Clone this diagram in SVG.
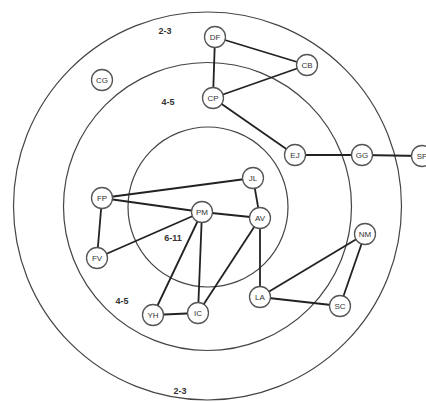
<svg xmlns="http://www.w3.org/2000/svg" width="426" height="402" viewBox="0 0 426 402">
<style>
.ring{fill:none;stroke:#444;stroke-width:1.2}
.node circle{fill:#fff;stroke:#555;stroke-width:1.3}
.node text{font-family:"Liberation Sans",Arial,sans-serif;font-size:8px;fill:#333;text-anchor:middle;dominant-baseline:central}
.lbl{font-family:"Liberation Sans",Arial,sans-serif;font-size:9px;font-weight:bold;fill:#333;text-anchor:middle}
#edges line{stroke:#222;stroke-width:1.8}
</style>
<rect width="426" height="402" fill="#fff"/>
<g id="rings">
<circle class="ring" cx="207.5" cy="206" r="194"/>
<circle class="ring" cx="207.5" cy="206.5" r="144"/>
<circle class="ring" cx="208" cy="207" r="80"/>
</g>
<g id="labels">
<text class="lbl" x="165" y="34">2-3</text>
<text class="lbl" x="168" y="105">4-5</text>
<text class="lbl" x="173" y="241">6-11</text>
<text class="lbl" x="122" y="304">4-5</text>
<text class="lbl" x="180" y="394">2-3</text>
</g>
<g id="edges">
<line x1="215" y1="37" x2="213" y2="98"/>
<line x1="215" y1="37" x2="307" y2="65"/>
<line x1="307" y1="65" x2="213" y2="98"/>
<line x1="213" y1="98" x2="295" y2="155"/>
<line x1="295" y1="155" x2="362" y2="155"/>
<line x1="362" y1="155" x2="422" y2="156"/>
<line x1="102" y1="198" x2="253" y2="178"/>
<line x1="102" y1="198" x2="202" y2="212"/>
<line x1="102" y1="198" x2="97" y2="258"/>
<line x1="97" y1="258" x2="202" y2="212"/>
<line x1="202" y1="212" x2="260" y2="218"/>
<line x1="253" y1="178" x2="260" y2="218"/>
<line x1="202" y1="212" x2="153" y2="315"/>
<line x1="202" y1="212" x2="198" y2="313"/>
<line x1="260" y1="218" x2="198" y2="313"/>
<line x1="260" y1="218" x2="260" y2="297"/>
<line x1="153" y1="315" x2="198" y2="313"/>
<line x1="260" y1="297" x2="365" y2="234"/>
<line x1="260" y1="297" x2="340" y2="306"/>
<line x1="365" y1="234" x2="340" y2="306"/>
</g>
<g id="n-DF" class="node"><circle cx="215" cy="37" r="10.5"/><text x="215" y="37">DF</text></g>
<g id="n-CB" class="node"><circle cx="307" cy="65" r="10.5"/><text x="307" y="65">CB</text></g>
<g id="n-CP" class="node"><circle cx="213" cy="98" r="10.5"/><text x="213" y="98">CP</text></g>
<g id="n-CG" class="node"><circle cx="102" cy="80" r="10.5"/><text x="102" y="80">CG</text></g>
<g id="n-EJ" class="node"><circle cx="295" cy="155" r="10.5"/><text x="295" y="155">EJ</text></g>
<g id="n-GG" class="node"><circle cx="362" cy="155" r="10.5"/><text x="362" y="155">GG</text></g>
<g id="n-SP" class="node"><circle cx="422" cy="156" r="10.5"/><text x="422" y="156">SP</text></g>
<g id="n-JL" class="node"><circle cx="253" cy="178" r="10.5"/><text x="253" y="178">JL</text></g>
<g id="n-FP" class="node"><circle cx="102" cy="198" r="10.5"/><text x="102" y="198">FP</text></g>
<g id="n-PM" class="node"><circle cx="202" cy="212" r="10.5"/><text x="202" y="212">PM</text></g>
<g id="n-AV" class="node"><circle cx="260" cy="218" r="10.5"/><text x="260" y="218">AV</text></g>
<g id="n-FV" class="node"><circle cx="97" cy="258" r="10.5"/><text x="97" y="258">FV</text></g>
<g id="n-YH" class="node"><circle cx="153" cy="315" r="10.5"/><text x="153" y="315">YH</text></g>
<g id="n-IC" class="node"><circle cx="198" cy="313" r="10.5"/><text x="198" y="313">IC</text></g>
<g id="n-LA" class="node"><circle cx="260" cy="297" r="10.5"/><text x="260" y="297">LA</text></g>
<g id="n-NM" class="node"><circle cx="365" cy="234" r="10.5"/><text x="365" y="234">NM</text></g>
<g id="n-SC" class="node"><circle cx="340" cy="306" r="10.5"/><text x="340" y="306">SC</text></g>
</svg>
